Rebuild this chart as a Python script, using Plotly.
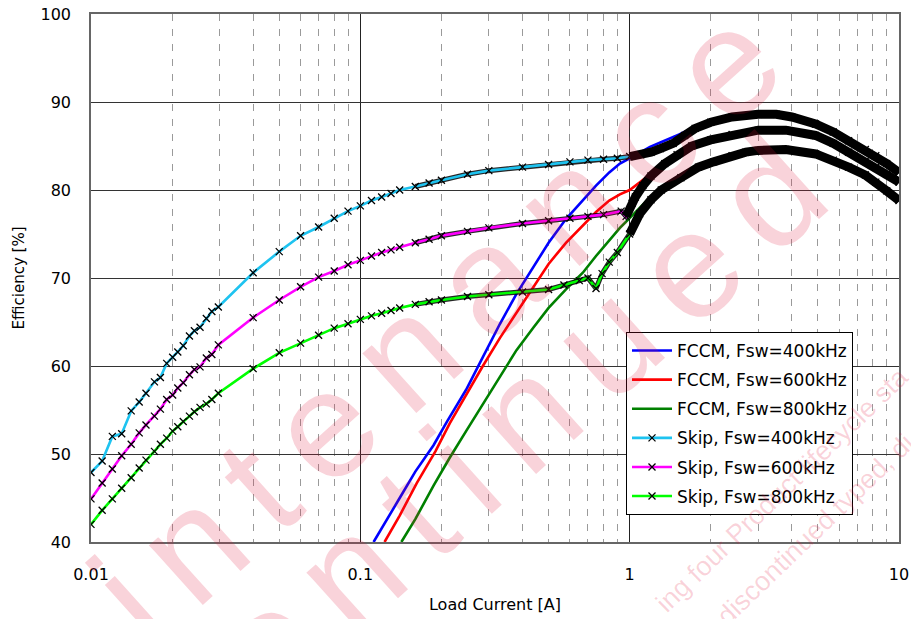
import plotly.graph_objects as go

# ---------------- data ----------------
fccm400_i = [0.112, 0.125, 0.14, 0.16, 0.187, 0.21, 0.247, 0.285, 0.33, 0.38, 0.44, 0.5, 0.58, 0.67, 0.75, 0.84, 0.92, 1.0, 1.1, 1.19, 1.3, 1.4, 1.52, 1.65, 1.75]
fccm400_e = [40.0, 42.4, 45.0, 48.0, 51.0, 53.7, 57.3, 61.0, 64.8, 68.2, 71.3, 74.0, 76.7, 78.8, 80.5, 82.0, 83.0, 83.6, 84.3, 84.9, 85.4, 85.8, 86.3, 86.8, 87.1]

fccm600_i = [0.123, 0.14, 0.162, 0.19, 0.215, 0.25, 0.285, 0.33, 0.38, 0.44, 0.5, 0.58, 0.67, 0.75, 0.84, 0.92, 1.0, 1.1, 1.22]
fccm600_e = [40.0, 43.0, 46.7, 50.3, 53.5, 57.0, 60.0, 63.2, 66.1, 69.1, 71.6, 74.0, 76.0, 77.5, 78.8, 79.5, 80.0, 81.0, 82.0]

fccm800_i = [0.142, 0.16, 0.187, 0.215, 0.247, 0.285, 0.33, 0.38, 0.44, 0.5, 0.58, 0.67, 0.75, 0.84, 0.92, 1.0, 1.08, 1.15, 1.2]
fccm800_e = [40.0, 42.6, 46.4, 49.6, 52.6, 55.7, 58.8, 61.8, 64.4, 66.6, 68.7, 70.6, 72.5, 74.3, 75.7, 76.8, 77.9, 78.7, 79.2]

skip400_i = [0.01, 0.011, 0.012, 0.013, 0.0141, 0.0151, 0.016, 0.0172, 0.0181, 0.0191, 0.0201, 0.021, 0.022, 0.0232,
             0.0242, 0.0254, 0.0268, 0.0281, 0.0297, 0.04, 0.05, 0.06, 0.07, 0.08, 0.09, 0.1, 0.11, 0.12, 0.13, 0.14,
             0.16, 0.18, 0.2, 0.25, 0.3, 0.4, 0.5, 0.6, 0.7, 0.8, 0.9, 1.0, 1.1, 1.2, 1.3, 1.45, 1.6, 1.75, 2.0, 2.4,
             3.0, 3.5, 4.0, 4.9, 5.7, 6.5, 7.5, 8.2, 9.0, 10.0]
skip400_e = [47.9, 49.2, 52.0, 52.3, 54.9, 55.9, 56.9, 58.2, 58.7, 60.3, 61.0, 61.6, 62.3, 63.4,
             64.0, 64.4, 65.4, 66.2, 66.7, 70.6, 73.0, 74.8, 75.8, 76.8, 77.6, 78.2, 78.8, 79.2, 79.6, 80.0,
             80.4, 80.8, 81.1, 81.8, 82.2, 82.6, 82.9, 83.2, 83.4, 83.5, 83.6, 83.8, 84.0, 84.3, 84.7, 85.3, 86.2, 87.0, 87.7, 88.3,
             88.6, 88.6, 88.3, 87.5, 86.6, 85.6, 84.6, 83.9, 83.0, 82.0]

skip600_i = [0.01, 0.011, 0.012, 0.013, 0.0141, 0.0151, 0.016, 0.0172, 0.0181, 0.0191, 0.0201, 0.021, 0.022, 0.0232,
             0.0242, 0.0254, 0.0268, 0.0281, 0.0297, 0.04, 0.05, 0.06, 0.07, 0.08, 0.09, 0.1, 0.11, 0.12, 0.13, 0.14,
             0.16, 0.18, 0.2, 0.25, 0.3, 0.4, 0.5, 0.6, 0.7, 0.8, 0.93, 0.97, 1.02, 1.05, 1.12, 1.2, 1.35, 1.5, 1.7, 2.0,
             2.4, 3.0, 3.8, 4.9, 5.7, 6.5, 7.5, 8.2, 9.0, 10.0]
skip600_e = [44.9, 46.7, 48.3, 49.8, 51.1, 52.4, 53.3, 54.3, 55.1, 56.2, 56.7, 57.5, 58.1, 59.0,
             59.6, 59.9, 60.9, 61.3, 62.4, 65.5, 67.5, 69.0, 70.1, 70.8, 71.5, 72.0, 72.5, 72.9, 73.2, 73.5,
             74.0, 74.4, 74.8, 75.3, 75.7, 76.2, 76.5, 76.8, 77.0, 77.2, 77.6, 77.0, 78.5, 79.2, 80.5, 81.6, 83.0, 84.0, 85.0, 85.7,
             86.3, 86.8, 86.8, 86.2, 85.3, 84.3, 83.3, 82.6, 81.8, 80.9]

skip800_i = [0.01, 0.011, 0.012, 0.013, 0.0141, 0.0151, 0.016, 0.0172, 0.0181, 0.0191, 0.0201, 0.021, 0.022, 0.0232,
             0.0242, 0.0254, 0.0268, 0.0281, 0.0297, 0.04, 0.05, 0.06, 0.07, 0.08, 0.09, 0.1, 0.11, 0.12, 0.13, 0.14,
             0.16, 0.18, 0.2, 0.25, 0.3, 0.4, 0.5, 0.57, 0.65, 0.7, 0.75, 0.79, 0.84, 0.9, 1.0, 1.09, 1.2, 1.31, 1.55, 1.8,
             2.05, 2.4, 2.7, 3.0, 3.8, 4.9, 5.7, 6.5, 7.5, 8.2, 9.0, 10.0]
skip800_e = [42.0, 43.6, 44.9, 46.1, 47.3, 48.4, 49.3, 50.3, 51.1, 51.8, 52.6, 53.1, 53.7, 54.3,
             54.8, 55.3, 55.7, 56.2, 56.9, 59.7, 61.5, 62.6, 63.5, 64.3, 64.8, 65.3, 65.7, 66.0, 66.3, 66.6,
             67.0, 67.3, 67.5, 67.9, 68.1, 68.4, 68.7, 69.2, 69.7, 70.0, 68.8, 70.5, 71.8, 72.9, 75.0, 77.3, 78.9, 80.0, 81.4, 82.6,
             83.2, 83.9, 84.3, 84.5, 84.6, 84.1, 83.4, 82.6, 81.7, 80.9, 79.9, 78.8]

x_tickvals = [0.01, 0.1, 1, 10]
x_ticktext = ["0.01", "0.1", "1", "10"]
y_tickvals = [40, 50, 60, 70, 80, 90, 100]

FONT = "DejaVu Sans"

fig = go.Figure()

fccm = [("FCCM, Fsw=400kHz", fccm400_i, fccm400_e, "#0000FF"),
        ("FCCM, Fsw=600kHz", fccm600_i, fccm600_e, "#FF0000"),
        ("FCCM, Fsw=800kHz", fccm800_i, fccm800_e, "#008000")]
skip = [("Skip, Fsw=400kHz", skip400_i, skip400_e, "#1EC3F0"),
        ("Skip, Fsw=600kHz", skip600_i, skip600_e, "#FF00FF"),
        ("Skip, Fsw=800kHz", skip800_i, skip800_e, "#00FF00")]

for name, xi, ye, col in fccm:
    fig.add_trace(go.Scatter(x=xi, y=ye, mode="lines", name=name, legendgroup=name,
                             line=dict(color=col, width=2.6)))

for name, xi, ye, col in skip:
    # dense-measurement region: black band made by the crowded markers
    mid = [(a, b) for a, b in zip(xi, ye) if 0.15 <= a <= 1.05]
    fig.add_trace(go.Scatter(x=[p[0] for p in mid], y=[p[1] for p in mid], mode="lines",
                             line=dict(color="rgba(0,0,0,0.85)", width=5), showlegend=False,
                             legendgroup=name, hoverinfo="skip"))
    fig.add_trace(go.Scatter(x=xi, y=ye, mode="lines+markers", name=name, legendgroup=name,
                             line=dict(color=col, width=2.6),
                             marker=dict(symbol="x-thin", size=7, color="black",
                                         line=dict(color="black", width=1.3))))

for name, xi, ye, col in skip:
    hi = [(a, b) for a, b in zip(xi, ye) if a >= 0.95]
    fig.add_trace(go.Scatter(x=[p[0] for p in hi], y=[p[1] for p in hi], mode="lines",
                             line=dict(color="black", width=9), showlegend=False,
                             legendgroup=name, hoverinfo="skip"))

# watermark (rotated, translucent, letter-spaced with six-per-em spaces)
wm = "rgba(225,20,60,0.19)"
SP = "\u2006"
big = [(SP.join("Maintenance"), 338, 412), (SP.join("Discontinued"), 370, 552)]
for txt, px, py in big:
    fig.add_annotation(text=txt, xref="paper", yref="paper", x=(px - 91) / 808, y=(542 - py) / 528,
                       xanchor="center", yanchor="middle", showarrow=False, textangle=-42,
                       font=dict(size=152, color=wm, family="Liberation Sans"))
small = [("ing four Product lifecycle sta", 782, 490), ("discontinued typed, di", 815, 530)]
for txt, px, py in small:
    fig.add_annotation(text=txt, xref="paper", yref="paper", x=(px - 91) / 808, y=(542 - py) / 528,
                       xanchor="center", yanchor="middle", showarrow=False, textangle=-44,
                       font=dict(size=27, color=wm, family="Liberation Sans"))

fig.update_xaxes(type="log", range=[-2, 1], tickvals=x_tickvals, ticktext=x_ticktext,
                 showgrid=True, gridcolor="#222", gridwidth=1,
                 minor=dict(dtick="D1", showgrid=True, gridcolor="#9a9a9a", gridwidth=1, griddash="7px,8px", ticks=""),
                 showline=True, mirror=True, linecolor="#666", linewidth=1.5,
                 ticks="", ticklabelstandoff=17, zeroline=False, ticklabeloverflow="allow",
                 tickfont=dict(family=FONT, size=16, color="black"),
                 title=dict(text="Load Current [A]", font=dict(family=FONT, size=16, color="black"), standoff=16))
fig.update_yaxes(range=[40, 100.001], tickvals=y_tickvals, showgrid=True, gridcolor="#333", gridwidth=1,
                 showline=True, mirror=True, linecolor="#666", linewidth=1.5,
                 ticks="", ticklabelstandoff=15, zeroline=False, ticklabeloverflow="allow",
                 tickfont=dict(family=FONT, size=16, color="black"),
                 title=dict(text="Efficiency [%]", font=dict(family=FONT, size=15, color="black"), standoff=12))

fig.update_layout(
    width=911, height=619,
    margin=dict(l=91, r=12, t=14, b=77, autoexpand=False),
    paper_bgcolor="white", plot_bgcolor="white",
    showlegend=True,
    legend=dict(x=(626 - 91) / 808, y=(542 - 332) / 528, xanchor="left", yanchor="top",
                bgcolor="white", bordercolor="black", borderwidth=1,
                font=dict(family=FONT, size=17, color="black"),
                traceorder="grouped", tracegroupgap=4, itemwidth=40),
)

fig.write_html("out.html")
